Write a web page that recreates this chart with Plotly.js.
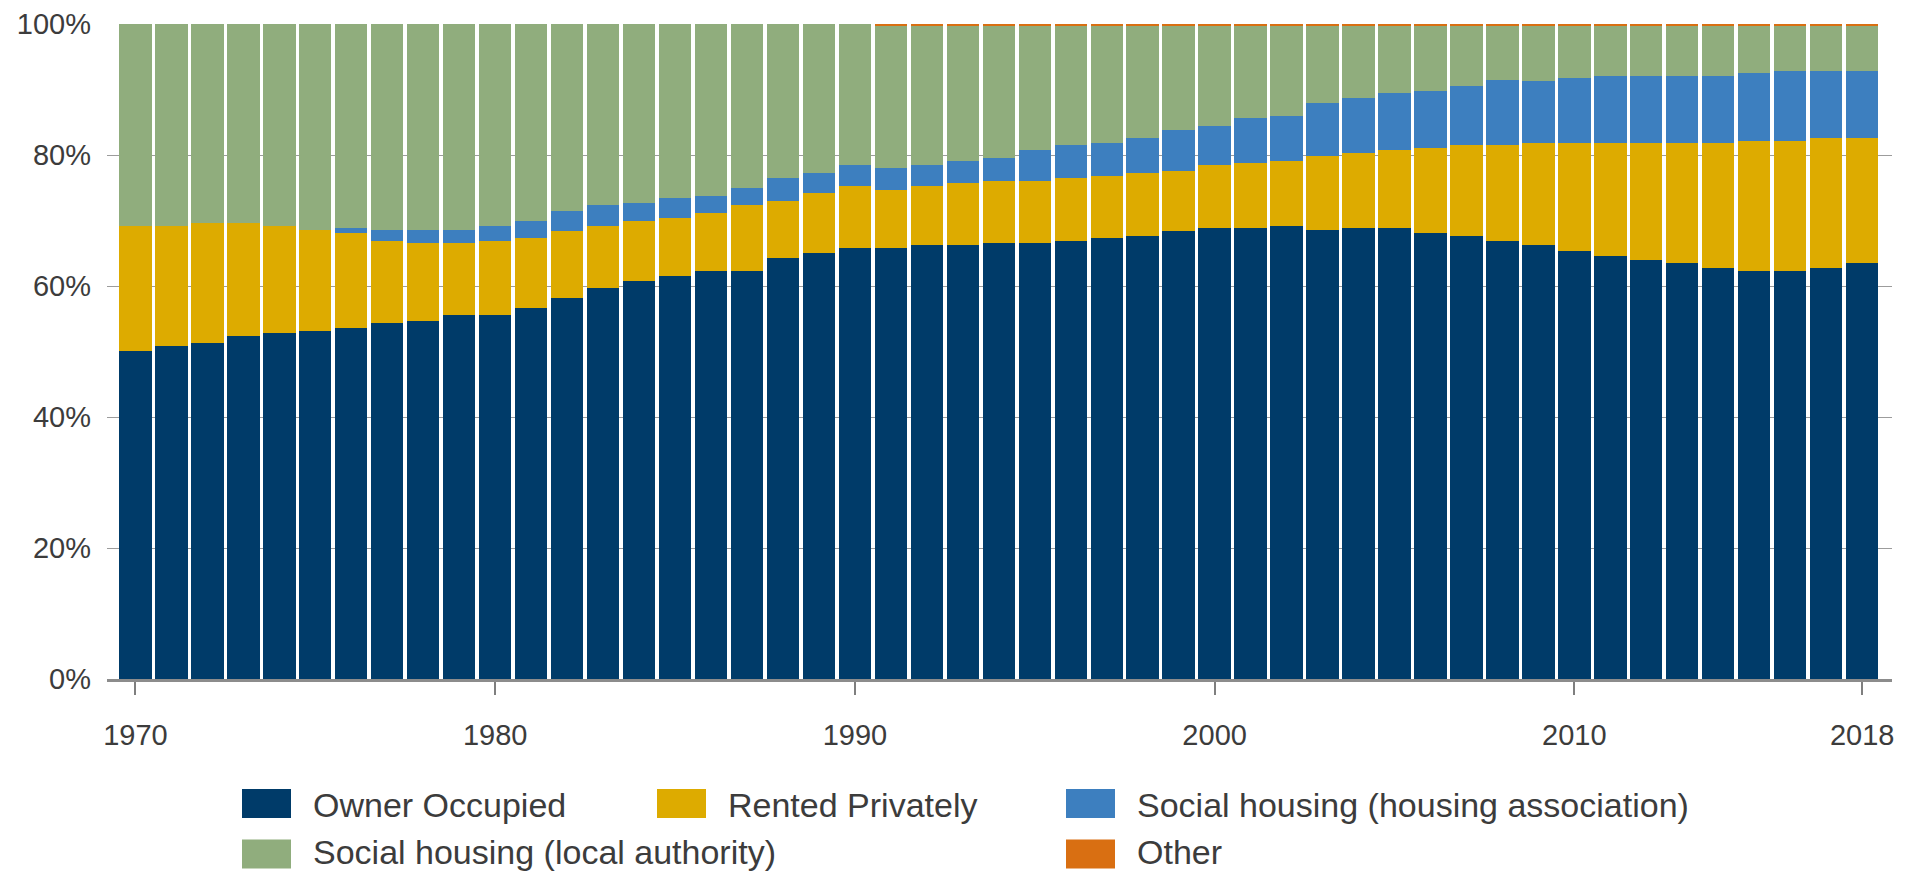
<!DOCTYPE html>
<html>
<head>
<meta charset="utf-8">
<script src="https://cdn.plot.ly/plotly-3.0.1.min.js"></script>
<style>
html, body { margin: 0; padding: 0; background: #ffffff; }
#chart { width: 1905px; height: 873px; }
</style>
</head>
<body>
<div id="chart"></div>
<script>
// ---- Data (shares of households, %) ----
const years = [1970,1971,1972,1973,1974,1975,1976,1977,1978,1979,
               1980,1981,1982,1983,1984,1985,1986,1987,1988,1989,
               1990,1991,1992,1993,1994,1995,1996,1997,1998,1999,
               2000,2001,2002,2003,2004,2005,2006,2007,2008,2009,
               2010,2011,2012,2013,2014,2015,2016,2017,2018];

const ownerOccupied = [50.1,50.9,51.3,52.4,52.8,53.2,53.6,54.4,54.7,55.5,
                       55.5,56.6,58.2,59.7,60.8,61.6,62.3,62.3,64.3,65.0,
                       65.8,65.8,66.2,66.2,66.6,66.6,66.9,67.3,67.7,68.4,
                       68.9,68.9,69.2,68.5,68.9,68.9,68.1,67.7,66.9,66.2,
                       65.4,64.6,63.9,63.5,62.8,62.3,62.3,62.8,63.5];

const rentedPrivately = [19.1,18.3,18.3,17.2,16.4,15.3,14.5,12.5,11.9,11.1,
                         11.4,10.7,10.2,9.5,9.2,8.8,8.8,10.0,8.7,9.2,
                         9.5,8.8,9.1,9.5,9.5,9.5,9.6,9.5,9.6,9.2,
                         9.5,9.9,9.9,11.4,11.4,11.8,13.0,13.8,14.6,15.6,
                         16.4,17.2,17.9,18.3,19.0,19.9,19.9,19.8,19.1];

const housingAssociation = [0,0,0,0,0,0,0.8,1.6,1.9,1.9,
                            2.3,2.7,3.1,3.1,2.7,3.0,2.7,2.7,3.5,3.1,
                            3.1,3.4,3.1,3.4,3.4,4.6,5.0,5.0,5.3,6.2,
                            6.1,6.8,6.9,8.0,8.4,8.8,8.7,9.1,9.9,9.5,
                            10.0,10.3,10.3,10.3,10.3,10.3,10.7,10.3,10.3];

const localAuthority = [30.8,30.8,30.4,30.4,30.8,31.5,31.1,31.5,31.5,31.5,
                        30.8,30.0,28.5,27.7,27.3,26.6,26.2,25.0,23.5,22.7,
                        21.6,21.7,21.3,20.6,20.2,19.0,18.2,17.9,17.1,15.9,
                        15.2,14.1,13.7,11.8,11.0,10.2,9.9,9.1,8.3,8.4,
                        7.9,7.6,7.6,7.6,7.6,7.2,6.8,6.8,6.8];

const other = [0,0,0,0,0,0,0,0,0,0,
               0,0,0,0,0,0,0,0,0,0,
               0,0.3,0.3,0.3,0.3,0.3,0.3,0.3,0.3,0.3,
               0.3,0.3,0.3,0.3,0.3,0.3,0.3,0.3,0.3,0.3,
               0.3,0.3,0.3,0.3,0.3,0.3,0.3,0.3,0.3];

const seriesNames = ["Owner Occupied", "Rented Privately",
                     "Social housing (housing association)",
                     "Social housing (local authority)", "Other"];
const seriesValues = [ownerOccupied, rentedPrivately, housingAssociation, localAuthority, other];

const xTickVals = [1970, 1980, 1990, 2000, 2010, 2018];
const xTickText = ["1970", "1980", "1990", "2000", "2010", "2018"];
const yTickVals = [0, 20, 40, 60, 80, 100];
const yTickText = ["0%", "20%", "40%", "60%", "80%", "100%"];

// ---- Styles ----
const seriesColors = ["#003b69", "#ddab00", "#3d7fbf", "#90ad7d", "#d96f12"];
const FONT = "Liberation Sans, Arial, Helvetica, sans-serif";
const TEXT_COLOR = "#3c3c3c";

// ---- Geometry (pixels) ----
const W = 1905, H = 873;
const M = { l: 107, r: 13, t: 24, b: 194 };
const PW = W - M.l - M.r, PH = H - M.t - M.b;
const px2x = px => (px - M.l) / PW;
const px2y = py => (H - M.b - py) / PH;

const traces = seriesNames.map((name, i) => ({
  type: "bar",
  name: name,
  x: years,
  y: seriesValues[i],
  marker: { color: seriesColors[i], line: { width: 0 } },
  showlegend: false,
  hovertemplate: "%{x}: %{y:.1f}%<extra>" + name + "</extra>"
}));

// Custom legend (large swatches as in the original)
const legendLayout = [
  { col: 242, row: 803.5, trow: 803.5 },
  { col: 657, row: 803.5, trow: 803.5 },
  { col: 1066, row: 803.5, trow: 803.5 },
  { col: 242, row: 854, trow: 851 },
  { col: 1066, row: 854, trow: 851 }
];
const SW = 49, SH = 29, TEXT_OFF = 70;
const shapes = [];
const annotations = [];
seriesNames.forEach((name, i) => {
  const p = legendLayout[i];
  shapes.push({
    type: "rect", xref: "paper", yref: "paper", layer: "above",
    x0: px2x(p.col), x1: px2x(p.col + SW),
    y0: px2y(p.row + SH / 2), y1: px2y(p.row - SH / 2),
    fillcolor: seriesColors[i], line: { width: 0 }
  });
  annotations.push({
    xref: "paper", yref: "paper", showarrow: false,
    x: px2x(p.col + TEXT_OFF), y: px2y(p.trow + 1),
    xanchor: "left", yanchor: "middle", borderpad: 0,
    text: name,
    font: { family: FONT, size: 34, color: TEXT_COLOR }
  });
});

const layout = {
  width: W, height: H,
  margin: M,
  paper_bgcolor: "#ffffff",
  plot_bgcolor: "#ffffff",
  barmode: "stack",
  bargap: 0.1,
  showlegend: false,
  font: { family: FONT, color: TEXT_COLOR },
  xaxis: {
    range: [1969.21, 2018.83],
    tickvals: xTickVals, ticktext: xTickText,
    ticks: "outside", ticklen: 13, tickwidth: 2, tickcolor: "#7f7f7f",
    showline: true, linecolor: "#8c8c8c", linewidth: 3,
    showgrid: false, zeroline: false,
    ticklabelstandoff: 15,
    tickfont: { family: FONT, size: 29, color: TEXT_COLOR }
  },
  yaxis: {
    range: [0, 100],
    tickvals: yTickVals, ticktext: yTickText,
    ticks: "", showline: false,
    showgrid: true, gridcolor: "#9c9c9c", gridwidth: 1,
    zeroline: false,
    ticklabelstandoff: 15,
    tickfont: { family: FONT, size: 29, color: TEXT_COLOR }
  },
  shapes: shapes,
  annotations: annotations
};

Plotly.newPlot("chart", traces, layout, { displayModeBar: false, responsive: false });
</script>
</body>
</html>
